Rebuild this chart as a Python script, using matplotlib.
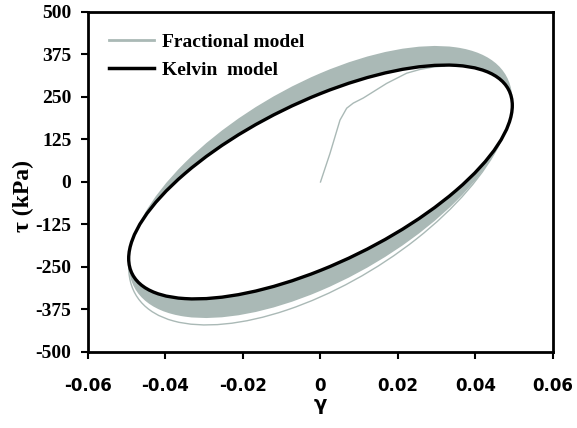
import numpy as np
import matplotlib.pyplot as plt
from matplotlib.path import Path
from matplotlib.patches import PathPatch
from matplotlib.transforms import Affine2D

# hysteresis loops: strain amplitude, stress at peak strain,
# stress where the loop crosses zero strain
loop_names = ['kelvin', 'band_outer', 'first_cycle']
strain_amp = [0.0495, 0.0495, 0.0495]
stress_at_peak = [225, 240, 250]
stress_at_zero = [260, 320, 338]

# start-up curve of the fractional model from the origin
start_gamma = [0.0, 0.00245, 0.00503, 0.00676, 0.00846, 0.01105, 0.01708, 0.02225, 0.02568, 0.0290, 0.0320]
start_tau = [0, 84, 182, 217, 232, 247, 290, 320, 331, 338, 341]

x_ticks = [-0.06, -0.04, -0.02, 0, 0.02, 0.04, 0.06]
x_labels = ['-0.06', '-0.04', '-0.02', '0', '0.02', '0.04', '0.06']
y_ticks = [-500, -375, -250, -125, 0, 125, 250, 375, 500]
y_labels = ['-500', '-375', '-250', '-125', '0', '125', '250', '375', '500']

grey = '#aab9b6'


def loop_map(i):
    # unit circle (cos t, sin t) -> (gamma, tau)
    m = np.array([[0, strain_amp[i], 0],
                  [stress_at_zero[i], stress_at_peak[i], 0],
                  [0, 0, 1]])
    return Affine2D(m)


kel = loop_names.index('kelvin')
out = loop_names.index('band_outer')
first = loop_names.index('first_cycle')

fig = plt.figure(figsize=(5.77, 4.28), dpi=100)
ax = fig.add_axes([0.1525, 0.1776, 0.8059, 0.7944])

# grey band between the outer fractional loop and the kelvin loop
outer_path = Path.unit_circle().transformed(loop_map(out))
inner_path = Path.unit_circle().transformed(Affine2D().scale(1, -1) + loop_map(kel))
ring = Path.make_compound_path(outer_path, inner_path)
ax.add_patch(PathPatch(ring, facecolor=grey, edgecolor='none', zorder=1))

# first cycle, lower part, visible just outside the band
first_path = Path.arc(110, 270).transformed(loop_map(first))
ax.add_patch(PathPatch(first_path, facecolor='none', edgecolor=grey, lw=1.0, zorder=2))

ax.plot(start_gamma, start_tau, color=grey, lw=1.0, zorder=2, label='Fractional model')

kel_path = Path.unit_circle().transformed(loop_map(kel))
ax.add_patch(PathPatch(kel_path, facecolor='none', edgecolor='black', lw=2.4, zorder=3))
ax.plot([], [], color='black', lw=2.5, label='Kelvin  model')

ax.set_xlim(-0.06, 0.06)
ax.set_ylim(-500, 500)
ax.set_xticks(x_ticks)
ax.set_xticklabels(x_labels, fontfamily='DejaVu Sans', fontweight='bold', fontsize=12)
ax.set_yticks(y_ticks)
ax.set_yticklabels(y_labels, fontfamily='Liberation Serif', fontweight='bold', fontsize=14)
ax.tick_params(direction='out', length=5, width=1.5)
ax.tick_params(axis='x', pad=13)
ax.tick_params(axis='y', pad=7)
for s in ax.spines.values():
    s.set_linewidth(2)

ax.set_xlabel('γ', fontfamily='DejaVu Sans', fontweight='bold', fontsize=14, labelpad=0)
ax.set_ylabel('τ (kPa)', fontfamily='Liberation Serif', fontweight='bold', fontsize=17)
ax.yaxis.set_label_coords(-0.115, 0.46)

leg = ax.legend(loc='upper left', frameon=False, handlelength=2.3, handletextpad=0.4,
                labelspacing=0.55, borderaxespad=0.5, borderpad=0.6,
                prop={'family': 'Liberation Serif', 'weight': 'bold', 'size': 14})
leg.get_lines()[0].set_linewidth(2)

fig.savefig('out.png', dpi=100)
